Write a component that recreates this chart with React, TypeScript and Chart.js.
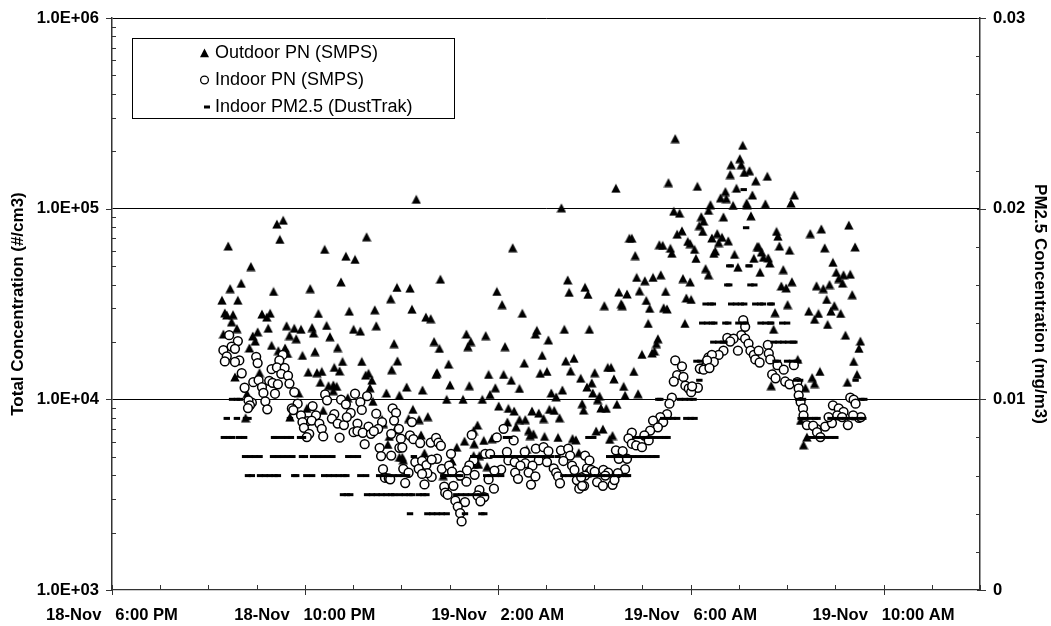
import React, { useEffect, useRef } from "react";
import { Chart, registerables } from "chart.js";

Chart.register(...registerables);

const xTickLabels = ["18-Nov   6:00 PM", "18-Nov   10:00 PM", "19-Nov   2:00 AM", "19-Nov   6:00 AM", "19-Nov   10:00 AM"];
const legendLabels = ["Outdoor PN (SMPS)", "Indoor PN (SMPS)", "Indoor PM2.5 (DustTrak)"];
const leftTitle = "Total Concentration (#/cm3)";
const rightTitle = "PM2.5 Concentration (mg/m3)";

// x = hours after 18-Nov 6:00 PM, y = #/cm3
const outdoorPN: [number, number][] = [
[2.41,63700],[2.88,49700],[2.68,40600],[2.45,38100],[2.28,33100],[2.61,33100],[2.34,28400],[2.51,27800],[2.38,27700],[2.48,25500],[2.59,23500],[2.31,22000],[2.92,21500],[3.02,22600],[2.97,20200],[2.85,18600],
[3.42,83000],[3.55,87000],[3.48,69000],[4.41,61200],[4.85,56300],[5.04,54200],[5.28,71200],[4.75,41300],[4.11,38100],[3.35,36800],[5.91,38600],[5.78,33700],[3.11,28000],[3.28,28300],[3.21,27000],[3.24,23600],
[4.28,28200],[4.92,29000],[5.45,29500],[3.62,24300],[3.78,23600],[3.92,23300],[4.15,23800],[4.45,24400],[4.18,22300],[3.68,21600],[3.82,20800],[4.52,21300],[5.01,23300],[5.15,22800],[5.48,24300],[5.85,19600],
[3.31,19200],[4.68,18700],[3.59,18600],[3.45,18000],[4.21,17800],[3.64,17400],[3.95,17000],[4.78,15800],[5.18,15800],[5.92,15900],[5.80,14300],[4.61,14700],[4.72,14100],[4.07,13900],[4.25,13800],[4.35,14000],
[5.26,13400],[5.32,13700],[5.39,12600],[4.32,12300],[4.49,11800],[4.59,11900],[4.66,11700],[4.59,11100],[5.35,11500],[5.69,10800],[5.96,10500],[4.89,10200],[5.41,9760],[2.55,13100],[2.66,13700],[3.06,13800],
[2.80,10700],[3.87,10800],[2.77,8000],[3.69,8070],[4.04,8970],[4.38,8750],[5.60,7850],[5.63,7460],[5.75,6390],[5.72,5800],[5.96,4970],[5.87,6900],
[6.31,112000],[9.32,101000],[8.31,62400],[6.81,42700],[6.18,38300],[9.45,42300],[9.81,38700],[9.48,36400],[9.87,35500],[7.98,36800],[8.09,31400],[6.22,29700],[8.51,28300],[6.51,27000],[6.61,26500],[8.81,23000],
[8.78,22000],[9.38,23300],[9.90,23300],[7.35,22000],[7.75,21600],[9.05,20500],[6.68,20100],[7.44,20100],[7.38,18900],[8.15,18900],[6.79,18500],[8.92,17000],[6.98,15300],[8.55,15500],[9.41,15900],[9.58,16400],
[9.51,14100],[6.74,13800],[6.72,13500],[7.81,13500],[8.12,13500],[8.88,13700],[9.02,14000],[9.72,12900],[8.28,12600],[8.45,11400],[9.85,11600],[6.11,11600],[7.01,11900],[7.41,11800],[6.44,11200],[7.95,11500],
[9.34,11200],[9.11,10800],[9.21,10300],[7.84,10600],[6.94,10000],[7.28,10000],[7.68,10000],[9.75,9490],[8.02,9220],[8.22,8960],[8.34,8680],[6.24,8860],[9.78,8780],[9.07,8860],[9.17,8750],[8.71,8680],[8.85,8470],
[6.55,8120],[6.15,7930],[6.37,7830],[8.95,7930],[9.28,8000],[8.45,7830],[8.57,7830],[8.20,7610],[7.58,7330],[8.38,7180],[7.50,6860],[8.64,6860],[8.74,6590],[8.67,6460],[6.41,6510],[8.97,6390],[9.25,6310],[9.55,6230],
[9.62,6130],[7.31,6040],[7.71,6090],[7.51,5850],[7.88,6220],[7.15,5610],[8.60,5470],[9.68,5250],[6.48,5230],[6.02,4970],[6.04,4820],[7.50,5070],[7.62,5070],[7.05,4750],[7.60,4560],[7.78,4440],[6.87,3980],[7.24,3980],[7.50,4560],
[11.68,233000],[10.45,128000],[11.54,137000],[12.14,131000],[11.65,97000],[11.77,94700],[12.37,98000],[12.22,90800],[12.27,86000],[12.18,81500],[12.25,76000],[11.82,76500],[11.72,73500],[10.73,70000],[10.78,70000],
[11.94,67300],[11.35,64700],[11.42,64200],[11.58,62000],[12.08,61200],[11.61,58400],[12.11,54800],[10.85,56800],[12.31,48500],[12.37,45000],[10.88,43600],[11.05,41900],[11.22,43600],[11.38,45000],[11.84,43000],[11.99,41300],
[10.94,37100],[11.48,36800],[10.51,36500],[10.68,35700],[10.21,31000],[10.56,31700],[10.58,31000],[11.08,33000],[11.15,30000],[11.44,30200],[11.51,29800],[11.91,34000],[12.01,33400],[11.12,25000],[11.88,25000],
[11.32,20800],[11.29,19600],[11.25,17900],[11.20,17500],[10.99,17200],[10.82,14000],[10.28,14700],[10.35,14700],[10.01,13800],[10.41,12800],[9.95,12200],[10.61,11700],[9.97,10800],[10.11,10400],[10.07,9960],[10.64,10500],
[10.91,10700],[10.47,9420],[10.14,9000],[10.25,8960],[10.04,6820],[10.18,6980],[10.38,6460],[10.32,6170],
[13.08,215000],[13.02,183000],[12.84,170000],[13.05,170000],[13.22,158000],[13.11,155000],[12.82,151000],[13.59,148000],[13.35,140000],[12.95,128000],[12.72,123000],[13.28,118000],[14.15,118000],[12.62,114000],[12.74,113000],
[12.41,105000],[12.88,104000],[13.16,107000],[13.17,105000],[13.55,106000],[14.08,107000],[12.68,90500],[13.25,91700],[13.78,76000],[13.81,71700],[15.28,82000],[14.71,78300],[14.48,74000],[12.44,70200],[12.55,74000],
[12.65,70800],[12.58,66400],[12.78,67800],[11.99,65600],[13.84,63700],[14.78,62300],[15.41,63000],[14.05,60600],[13.38,63300],[13.41,63300],[13.47,59300],[12.91,57600],[12.51,60000],[12.48,58300],[13.31,54900],[13.51,55600],
[13.61,55200],[13.64,51900],[14.95,52300],[12.98,49300],[13.92,47900],[13.44,46400],[15.02,46400],[15.17,45000],[15.31,45300],[15.07,43000],[15.15,40700],[14.10,41400],[13.88,39300],[13.98,38400],[14.61,39400],[14.75,38100],
[14.88,40000],[15.35,35400],[14.82,33400],[14.01,31400],[14.98,31000],[13.75,28500],[14.45,29000],[14.65,28200],[14.91,29000],[15.11,28200],[14.57,26300],[14.84,24700],[13.72,23300],[15.21,21700],[15.52,20200],[15.49,18500],
[15.38,15800],[14.22,16200],[14.68,14000],[14.52,13000],[14.57,12100],[15.45,13500],[15.25,12300],[14.38,11500],[13.67,11800],[14.41,6340],[14.34,5770],[14.28,7750],[13.80,15200],
];

const indoorPN: [number, number][] = [
[2.43,21700],[2.61,20200],[2.31,18100],[2.48,18900],[2.55,18400],[2.38,16800],[2.34,15800],[2.64,16000],[2.55,15700],[2.99,16700],[3.02,15500],[3.54,17100],[3.47,16000],[3.31,14400],[3.42,14700],[3.58,14600],[3.51,13600],[3.65,13300],
[2.69,13700],[2.93,12300],[3.04,12600],[3.26,12500],[3.33,12200],[3.44,12000],[3.68,12100],[2.75,11500],[3.11,11600],[3.14,10800],[3.38,10700],[3.78,10900],[3.18,9760],[3.22,8860],[2.90,9610],[2.83,9880],[2.86,9300],[2.82,9000],
[3.85,9490],[3.73,8960],[3.76,8780],[4.42,10600],[4.46,9880],[4.16,9220],[4.75,9960],[5.04,10700],[5.29,10400],[5.15,9680],[4.85,9420],[5.18,8800],[3.92,8240],[4.23,8240],[4.05,7680],[4.14,7740],[3.95,7600],[3.98,7090],[4.30,7460],
[4.35,7000],[4.09,6590],[4.04,6340],[4.38,6390],[4.61,8350],[4.56,7930],[4.68,7460],[4.81,7330],[4.95,8480],[4.87,8070],[5.09,7460],[5.48,8410],[5.82,8960],[5.89,8500],[5.85,7740],[5.60,7600],[5.52,7000],[5.32,7200],[5.01,6730],
[5.09,6810],[5.20,6680],[5.37,6590],[5.43,6810],[4.72,6290],[5.24,5820],[5.55,5570],[5.58,5040],[5.79,5070],[5.96,5570],[5.62,4300],[5.66,3880],[5.74,3850],
[5.95,7000],[5.79,6590],[5.99,6220],[6.02,5590],[6.04,4320],[5.77,3810],[6.08,3640],[6.15,4120],[6.22,7600],[6.18,6460],[6.25,6180],[6.39,5900],[6.61,5930],[6.72,6270],[6.77,5930],[6.82,5710],[7.03,5180],[6.74,4880],[6.29,4690],
[6.43,4750],[6.52,4520],[6.63,4830],[6.36,4320],[6.84,4320],[6.99,4490],[7.05,4180],[6.63,3920],[6.54,4100],[6.43,4060],[6.48,3580],[6.89,3480],[6.91,3240],[6.96,3160],[7.08,3520],[7.46,6510],[7.98,6310],[8.12,7000],[7.74,5180],
[7.84,5180],[7.50,4780],[7.41,4500],[7.36,4240],[7.35,3700],[7.22,3980],[7.52,4020],[8.19,5300],[8.33,6090],[8.22,4780],[8.35,4690],[8.07,4280],[7.93,4230],[7.81,3800],[7.92,3400],[8.56,5300],[8.79,5510],[8.95,5610],[9.05,5350],
[9.31,5400],[9.46,5510],[9.50,5070],[8.85,4780],[8.57,4620],[8.72,4490],[8.47,4490],[8.64,4130],[8.36,4130],[8.42,3830],[8.78,3940],[8.69,3570],[9.02,4690],[9.16,4340],[9.21,4130],[9.25,3940],[9.29,3630],[9.36,4750],[9.54,4490],
[9.59,4260],[9.64,3770],[9.69,3400],[9.79,3520],[9.85,4340],[9.90,4130],[7.62,3350],[7.58,3130],[7.72,3070],[7.64,2920],[7.32,2890],[7.12,2940],[7.17,2740],[7.22,2530],[7.25,2290],
[11.68,16000],[11.82,14900],[11.72,13400],[11.85,13100],[11.65,12400],[11.89,11800],[11.96,11400],[12.15,11500],[12.01,10900],[11.61,10200],[11.56,9490],[12.37,16600],[12.30,14800],[12.20,14500],[11.51,8350],[11.37,8070],[11.22,7740],
[11.43,7600],[11.32,7130],[11.16,6860],[10.78,6680],[11.04,6460],[10.71,6240],[11.13,6090],[10.78,5850],[10.87,5730],[10.99,5610],[10.45,5400],[10.59,5350],[10.51,4880],[10.68,4880],[10.64,4300],[10.49,4100],[9.81,5070],[9.90,4780],
[9.94,4260],[10.01,4180],[10.19,4260],[10.29,4130],[10.23,3980],[9.81,3980],[9.73,3900],[10.06,3680],[10.18,3520],[10.38,3560],[10.42,3770],[9.75,3520],
[13.09,26000],[13.13,24000],[13.05,21700],[12.76,21000],[12.89,20800],[12.82,20100],[13.13,20800],[13.20,19600],[12.98,18000],[12.68,18000],[12.58,17100],[12.44,17100],[12.48,15700],[12.34,16000],[12.19,14500],[12.27,14300],[12.39,14600],
[13.24,18000],[13.31,17100],[13.41,18000],[13.60,19300],[13.34,16200],[13.43,15600],[13.62,17400],[13.65,16200],[13.80,15100],[13.93,14300],[14.14,15100],[13.69,13500],[13.76,12900],[13.96,12400],[14.05,12000],[14.21,12300],[14.24,11400],
[14.24,10500],[14.28,9680],[14.33,8960],[14.34,8240],[14.41,7330],[14.61,7000],[14.54,7270],[14.62,6730],[14.69,6340],[14.79,7200],[14.93,7510],[14.86,8070],[14.95,9300],[15.07,8960],[15.17,8580],[15.26,7330],[15.31,10200],[15.38,9960],
[15.42,9490],[15.49,8000],[15.53,8070],[15.04,8240],[15.14,8070],[15.37,8240],[12.03,11700],
];

// Indoor PM2.5 in mg/m3: DustTrak readings are quantised, so hours are grouped by reading
const pm004 = [6.18,6.54,6.64,6.74,6.84,6.94,7.32,7.66,7.72];
const pm005 = [4.79,4.87,4.94,5.29,5.39,5.49,5.59,5.69,5.79,5.85,5.97,6.07,6.17,6.23,6.37,6.45,6.52,7.14,7.24,7.34,7.44,7.54,7.64,7.74];
const pm006 = [2.82,2.90,3.07,3.17,3.27,3.37,3.44,3.78,3.82,4.03,4.15,4.40,4.50,4.60,4.70,4.80,4.86,5.15,5.27,5.54,5.64,5.74,5.84,5.94,6.04,6.12,6.87,6.97,7.07,7.17,7.22,7.76,7.86,7.96,8.07,9.36,9.46,9.56,9.66,9.76,9.86,9.96,10.06,10.16,10.26,10.36,10.46,10.56,10.66,10.70];
const pm007 = [2.76,2.86,2.96,3.06,3.34,3.44,3.54,3.64,3.74,3.94,4.00,4.17,4.27,4.37,4.47,4.57,4.90,5.00,5.10,6.26,7.49,7.57,7.90,8.00,8.10,8.20,8.30,8.40,8.50,8.60,8.70,8.80,8.90,9.00,9.10,9.24,10.31,10.41,10.51,10.61,10.71,10.81,10.91,11.01,11.11,11.21,11.29];
const pm008 = [2.32,2.42,2.49,2.63,2.74,3.36,3.40,3.53,3.63,3.71,3.90,3.96,8.17,8.24,9.88,9.98,10.87,10.97,11.07,11.17,11.27,11.37,11.47,11.52,14.50,14.60,14.70,14.80,14.90,15.00];
const pm009 = [2.38,2.59,2.78,2.83,3.69,11.43,11.53,11.63,11.72,11.91,12.00,12.08,14.28,14.38,14.48,14.58,14.63,14.90,15.00,15.10,15.20,15.30,15.40,15.50,15.58];
const pm010 = [2.49,2.59,2.65,11.33,11.37,11.78,11.88,11.98,12.06,14.23,14.33,15.54,15.60];
const pm011 = [12.18,14.19,14.27,15.42];
const pm012 = [12.12,12.20,13.76,13.81,14.00,14.10,14.20,14.23];
const pm013 = [12.47,12.57,12.67,12.70,13.72,13.82,13.92,14.02,14.12,14.15];
const pm014 = [12.24,12.34,12.44,12.49,12.72,12.78,12.99,13.09,13.14,13.45,13.55,13.65,13.67,13.90,14.00];
const pm015 = [12.31,12.41,12.46,12.84,12.94,13.04,13.11,13.34,13.44,13.50,13.65,13.68];
const pm016 = [12.76,12.80,13.24,13.32];
const pm017 = [12.80,12.83,13.20,13.22];
const pm019 = [13.15];
const pm021 = [13.10];

const pmGroups: [number, number[]][] = [
  [0.004, pm004],[0.005, pm005],[0.006, pm006],[0.007, pm007],[0.008, pm008],[0.009, pm009],[0.010, pm010],
  [0.011, pm011],[0.012, pm012],[0.013, pm013],[0.014, pm014],[0.015, pm015],[0.016, pm016],[0.017, pm017],[0.019, pm019],[0.021, pm021],
];

const FONT = '"Liberation Sans", Arial, sans-serif';
const BOLD = { family: FONT, size: 16.6, weight: "bold" as const };
const TITLE = { family: FONT, size: 17, weight: "bold" as const };
const AXIS = "#333333";
const LEGEND_FONT = `18px ${FONT}`;

const logTicks: number[] = [];
for (const d of [1000, 10000, 100000]) for (let m = 1; m < 10; m++) logTicks.push(d * m);
logTicks.push(1000000);

// A triangle sprite centred on its own box, as the spreadsheet's marker is
function makeTriangle() {
  const c = document.createElement("canvas");
  c.width = 10;
  c.height = 10;
  const g = c.getContext("2d")!;
  g.fillStyle = "#000";
  g.beginPath();
  g.moveTo(5, 0.4);
  g.lineTo(9.7, 9.6);
  g.lineTo(0.3, 9.6);
  g.closePath();
  g.fill();
  return c;
}

const tickPlugin = {
  id: "axisTicks",
  afterDraw(chart: any) {
    const { ctx, chartArea: a, scales } = chart;
    ctx.save();
    ctx.strokeStyle = AXIS;
    ctx.lineWidth = 1;
    const line = (x0: number, y0: number, x1: number, y1: number) => {
      ctx.beginPath(); ctx.moveTo(x0, y0); ctx.lineTo(x1, y1); ctx.stroke();
    };
    for (let h = 0; h <= 18; h++) {
      const x = Math.round(scales.x.getPixelForValue(h)) + 0.5;
      if (h % 4 === 0) line(x, a.bottom - 5, x, a.bottom + 5);
      else line(x, a.bottom - 5, x, a.bottom);
    }
    for (const v of logTicks) {
      const y = Math.round(scales.y.getPixelForValue(v)) + 0.5;
      if ([1000, 10000, 100000, 1000000].includes(v)) line(a.left - 6, y, a.left, y);
      else line(a.left, y, a.left + 4, y);
    }
    for (let i = 0; i <= 15; i++) {
      const y = Math.round(scales.y1.getPixelForValue(i * 0.002)) + 0.5;
      if (i % 5 === 0) line(a.right - 3, y, a.right + 6, y);
      else line(a.right - 4, y, a.right, y);
    }
    ctx.restore();
  },
};

const legendPlugin = {
  id: "boxLegend",
  afterDraw(chart: any) {
    const { ctx } = chart;
    ctx.save();
    ctx.fillStyle = "#fff";
    ctx.strokeStyle = "#000";
    ctx.lineWidth = 1;
    ctx.fillRect(133, 38, 322, 80);
    ctx.strokeRect(132.5, 38.5, 322, 80);
    ctx.fillStyle = "#000";
    ctx.font = LEGEND_FONT;
    ctx.textBaseline = "middle";
    ctx.textAlign = "left";
    const rows = [53, 80, 107];
    legendLabels.forEach((t, i) => ctx.fillText(t, 215, rows[i]));
    ctx.beginPath(); ctx.moveTo(204.5, 48.5); ctx.lineTo(209, 57.3); ctx.lineTo(200, 57.3); ctx.closePath(); ctx.fill();
    ctx.beginPath(); ctx.arc(204.5, 80, 3.9, 0, Math.PI * 2); ctx.lineWidth = 1.3; ctx.stroke();
    ctx.fillRect(204, 105.5, 6, 3);
    ctx.restore();
  },
};

export default function App() {
  const ref = useRef<HTMLCanvasElement>(null);
  useEffect(() => {
    document.body.style.margin = "0";
    const pmPoints = pmGroups.flatMap(([v, hs]) => hs.map((h) => ({ x: h, y: v })));
    const chart = new Chart(ref.current!, {
      type: "scatter",
      data: {
        datasets: [
          {
            label: legendLabels[0],
            data: outdoorPN.map(([x, y]) => ({ x, y })),
            yAxisID: "y",
            pointStyle: makeTriangle(),
            pointRadius: 5,
            backgroundColor: "#000",
            borderColor: "#000",
            borderWidth: 0,
            order: 3,
          },
          {
            label: legendLabels[1],
            data: indoorPN.map(([x, y]) => ({ x, y })),
            yAxisID: "y",
            pointStyle: "circle",
            pointRadius: 4.4,
            backgroundColor: "#fff",
            borderColor: "#000",
            borderWidth: 1.5,
            order: 2,
          },
          {
            label: legendLabels[2],
            data: pmPoints,
            yAxisID: "y1",
            pointStyle: "line",
            pointRadius: 3.2,
            backgroundColor: "#000",
            borderColor: "#000",
            borderWidth: 3,
            order: 1,
          },
        ],
      } as any,
      options: {
        responsive: false,
        animation: false,
        layout: { padding: { top: 18, left: 0, right: 0, bottom: 0 } },
        plugins: { legend: { display: false }, tooltip: { enabled: false } },
        scales: {
          x: {
            type: "linear",
            min: 0,
            max: 18,
            afterBuildTicks: (s: any) => {
              s.ticks = Array.from({ length: 19 }, (_, i) => ({ value: i }));
            },
            afterFit: (s: any) => { s.height = 36; s.paddingLeft = 0; s.paddingRight = 0; },
            ticks: {
              autoSkip: false,
              maxRotation: 0,
              padding: 15,
              color: "#000",
              font: BOLD,
              callback: (v: any) => (v % 4 === 0 ? xTickLabels[v / 4] ?? "" : ""),
            },
            grid: { display: false, drawTicks: false },
            border: { display: true, color: AXIS, width: 1.3 },
          },
          y: {
            type: "logarithmic",
            position: "left",
            min: 1000,
            max: 1000000,
            afterBuildTicks: (s: any) => {
              s.ticks = logTicks.map((value) => ({ value }));
            },
            afterFit: (s: any) => { s.width = 112; s.paddingTop = 0; s.paddingBottom = 0; },
            ticks: {
              autoSkip: false,
              padding: 13,
              color: "#000",
              font: BOLD,
              callback: (v: any) => {
                const e = Math.log10(v);
                return Math.abs(e - Math.round(e)) < 1e-9 ? `1.0E+0${Math.round(e)}` : "";
              },
            },
            grid: {
              drawTicks: false,
              lineWidth: 1,
              color: (c: any) => ([1e4, 1e5, 1e6].includes(c.tick?.value) ? "#000" : "rgba(0,0,0,0)"),
            },
            border: { display: true, color: AXIS, width: 1.5 },
            title: { display: true, text: leftTitle, color: "#000", font: TITLE, padding: { top: 8, bottom: 0 } },
          },
          y1: {
            type: "linear",
            position: "right",
            min: 0,
            max: 0.03,
            afterBuildTicks: (s: any) => {
              s.ticks = [0, 0.01, 0.02, 0.03].map((value) => ({ value }));
            },
            afterFit: (s: any) => { s.width = 71; s.paddingTop = 0; s.paddingBottom = 0; },
            ticks: {
              autoSkip: false,
              padding: 13,
              color: "#000",
              font: BOLD,
              callback: (v: any) => (v === 0 ? "0" : Number(v).toFixed(2)),
            },
            grid: { display: false, drawTicks: false },
            border: { display: true, color: AXIS, width: 1.5 },
            title: { display: true, text: rightTitle, color: "#000", font: TITLE, padding: { top: 1, bottom: 0 } },
          },
        },
      },
      plugins: [tickPlugin, legendPlugin],
    } as any);
    return () => chart.destroy();
  }, []);
  return <canvas ref={ref} width={1051} height={626} style={{ display: "block", width: 1051, height: 626 }} />;
}
